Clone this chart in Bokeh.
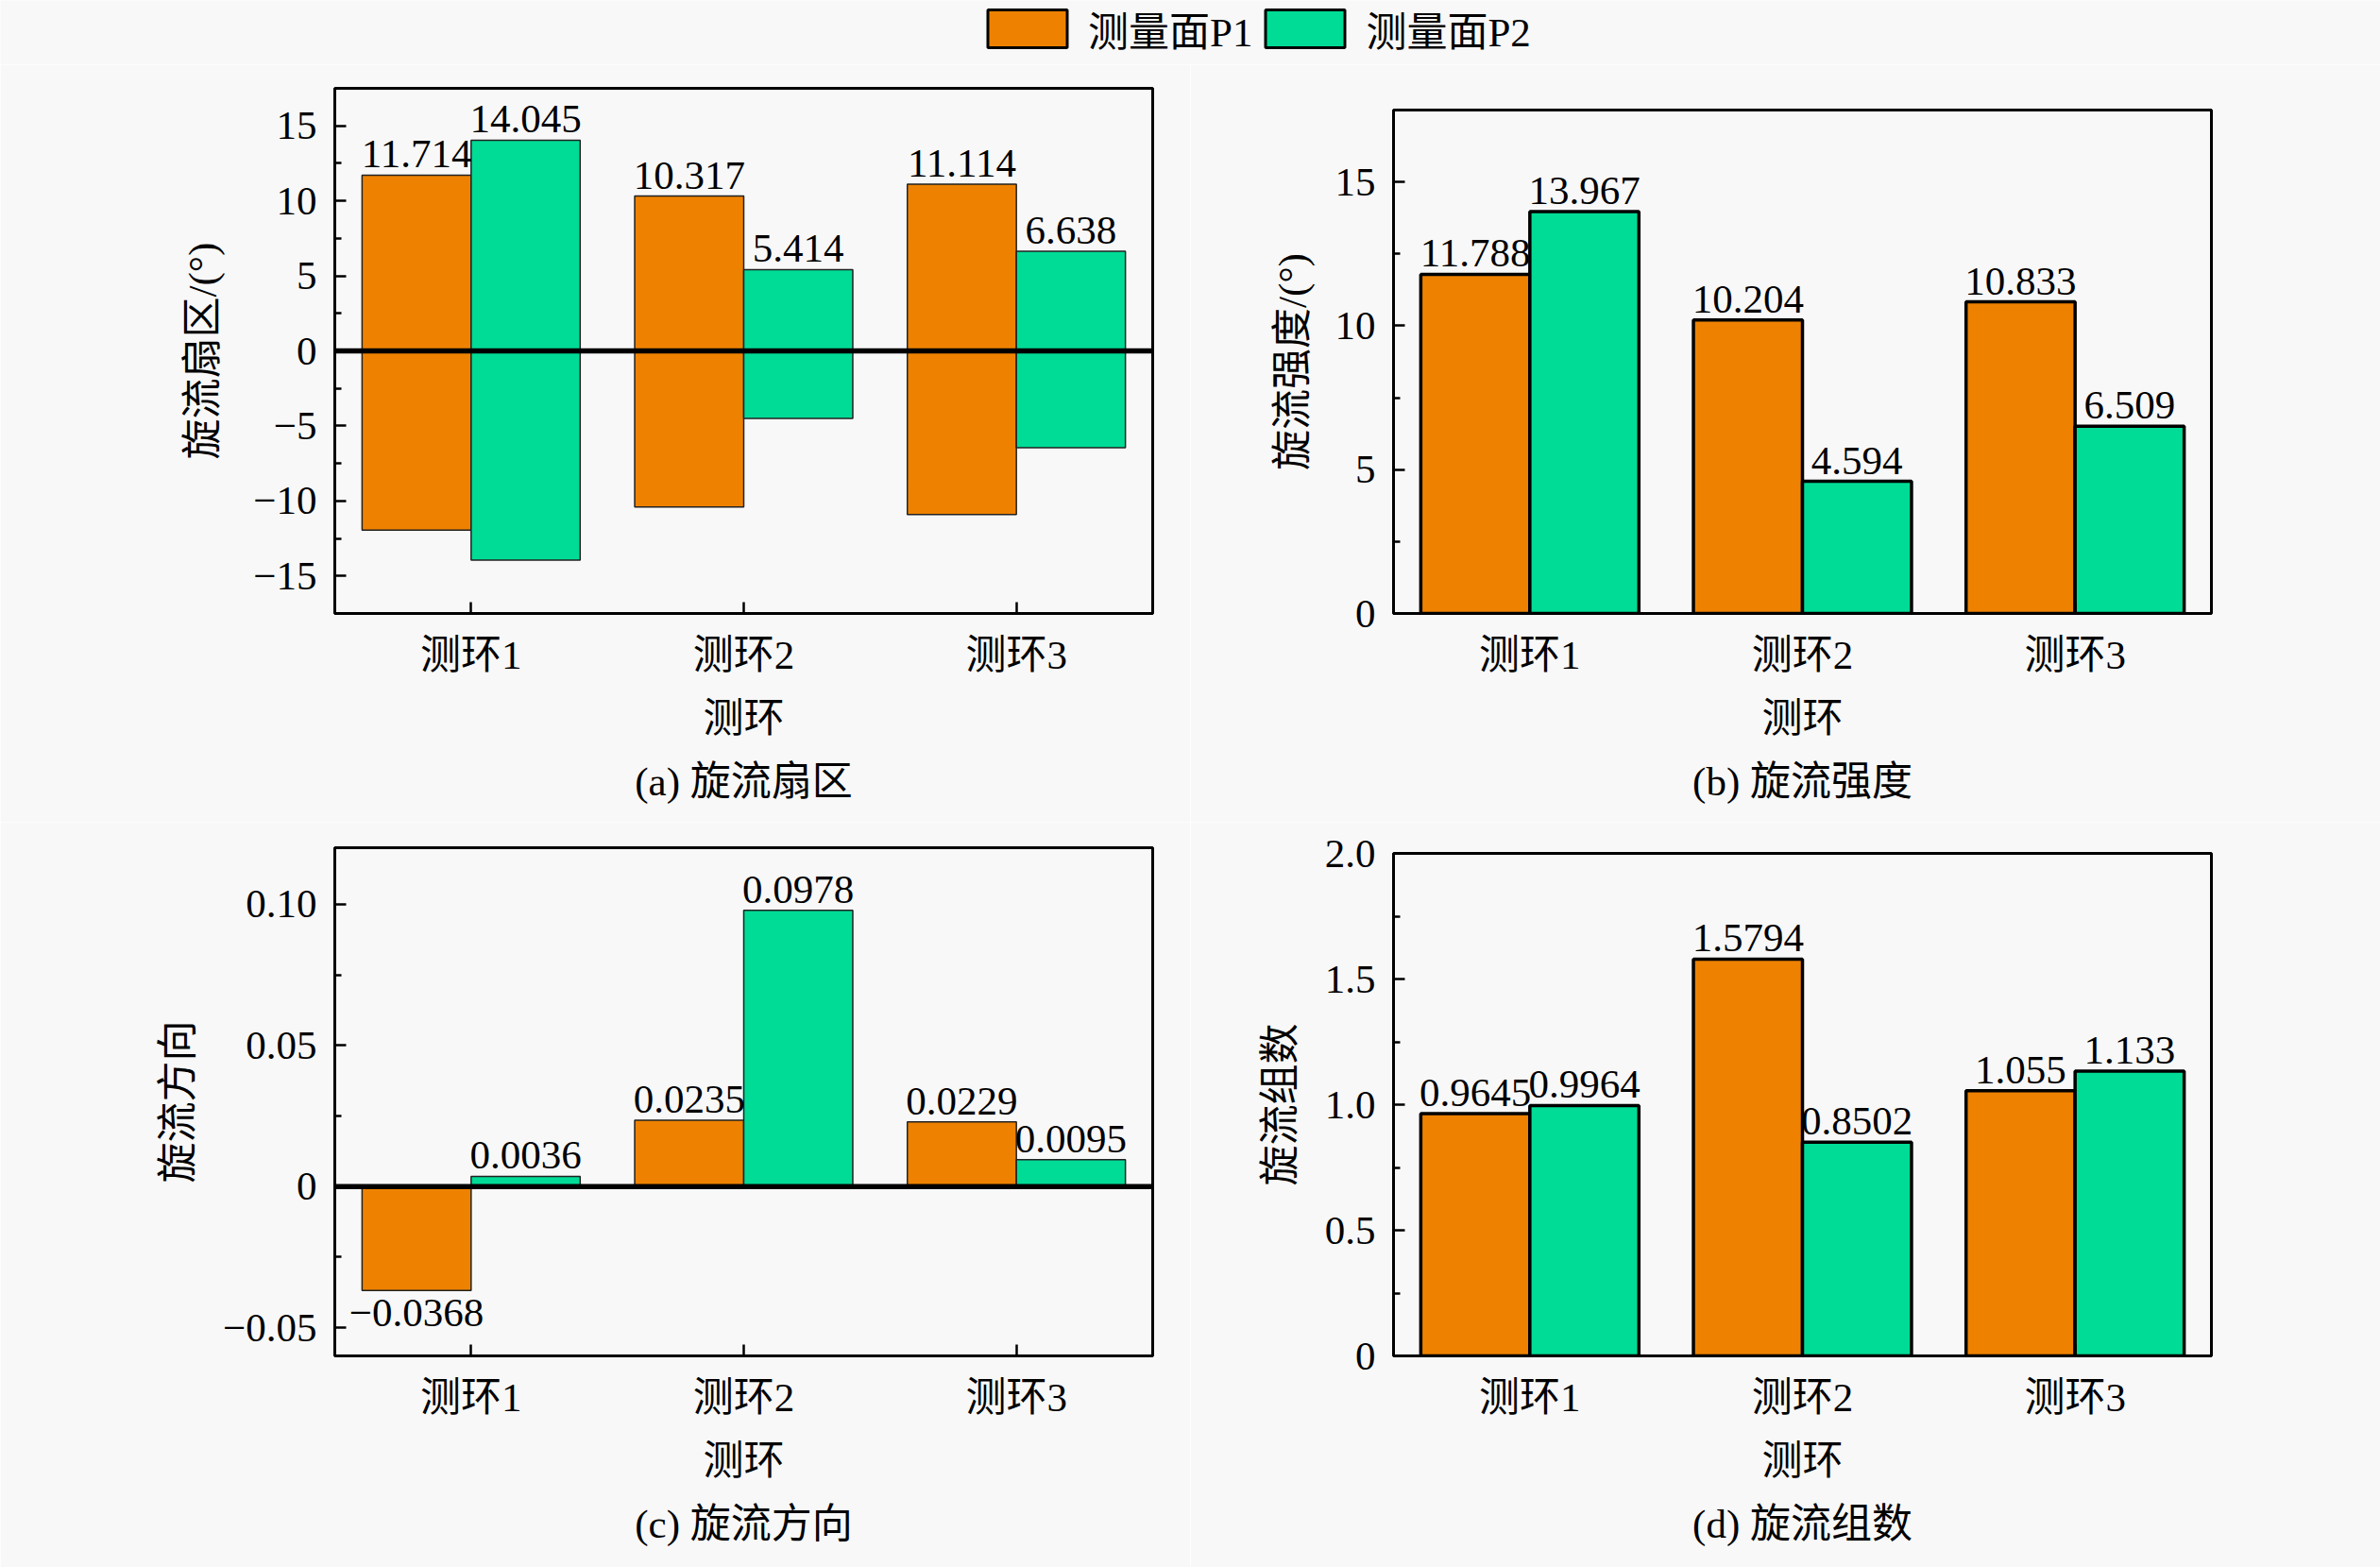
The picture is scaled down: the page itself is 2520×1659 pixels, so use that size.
from bokeh.plotting import figure
from bokeh.layouts import column, row
from bokeh.models import (ColumnDataSource, FactorRange, Range1d, FixedTicker, Span,
                          Title, Legend, LegendItem)
from bokeh.transform import dodge
from bokeh.core.properties import value
from bokeh.embed import file_html
from bokeh.resources import INLINE

# ---- data ----
rings = ["测环1", "测环2", "测环3"]
series_names = ["测量面P1", "测量面P2"]

sector_p1 = [11.714, 10.317, 11.114]
sector_p2 = [14.045, 5.414, 6.638]
sector_p1_low = [-11.95, -10.40, -10.90]
sector_p2_low = [-13.95, -4.50, -6.45]

intensity_p1 = [11.788, 10.204, 10.833]
intensity_p2 = [13.967, 4.594, 6.509]

direction_p1 = [-0.0368, 0.0235, 0.0229]
direction_p2 = [0.0036, 0.0978, 0.0095]

groups_p1 = [0.9645, 1.5794, 1.055]
groups_p2 = [0.9964, 0.8502, 1.133]

sector_ticks = [-15, -10, -5, 0, 5, 10, 15]
sector_tick_text = ["−15", "−10", "−5", "0", "5", "10", "15"]
intensity_ticks = [0, 5, 10, 15]
intensity_tick_text = ["0", "5", "10", "15"]
direction_ticks = [-0.05, 0, 0.05, 0.10]
direction_tick_text = ["−0.05", "0", "0.05", "0.10"]
groups_ticks = [0, 0.5, 1.0, 1.5, 2.0]
groups_tick_text = ["0", "0.5", "1.0", "1.5", "2.0"]

ORANGE = "#EE8200"
GREEN = "#00DC96"
BG = "#f8f8f8"
FONT = "Liberation Serif, Noto Sans CJK SC"
FS = "43px"


def fmt(v):
    return str(v).replace("-", "−")


def add_labels(p, vals, shift):
    """Value labels above positive bars, below negative ones."""
    for keep, baseline, off in ((lambda v: v >= 0, "bottom", -8), (lambda v: v < 0, "top", 10)):
        idx = [i for i, v in enumerate(vals) if keep(v)]
        if not idx:
            continue
        src = ColumnDataSource(dict(ring=[rings[i] for i in idx],
                                    y=[vals[i] for i in idx],
                                    text=[fmt(vals[i]) for i in idx]))
        p.text(x=dodge("ring", shift, range=p.x_range), y="y", text="text", source=src,
               text_align="center", text_baseline=baseline, y_offset=off, text_color="black",
               text_font=value(FONT), text_font_size=FS)


def make_panel(width, height, borders, y_range, ticks, tick_text, minors, ylabel, caption,
               p1, p2, low1=None, low2=None, bar_line=1.5, zero_line=False, label_standoff=16):
    left, right, top, bottom = borders
    p = figure(width=width, height=height, x_range=FactorRange(*rings, range_padding=0),
               y_range=Range1d(*y_range), toolbar_location=None, output_backend="svg",
               title=None, min_border_left=left, min_border_right=right,
               min_border_top=top, min_border_bottom=bottom, frame_align=False,
               background_fill_color=BG, border_fill_color=BG)
    p.grid.visible = False
    p.outline_line_color = "black"
    p.outline_line_width = 3

    src = ColumnDataSource(dict(ring=rings, p1=p1, p2=p2,
                                low1=low1 if low1 else [0] * len(rings),
                                low2=low2 if low2 else [0] * len(rings)))
    lc = "#222222" if bar_line < 2 else "black"
    p.vbar(x=dodge("ring", -0.2, range=p.x_range), top="p1", bottom="low1", width=0.4,
           source=src, fill_color=ORANGE, line_color=lc, line_width=bar_line)
    p.vbar(x=dodge("ring", 0.2, range=p.x_range), top="p2", bottom="low2", width=0.4,
           source=src, fill_color=GREEN, line_color=lc, line_width=bar_line)

    if zero_line:
        p.add_layout(Span(location=0, dimension="width", line_color="black", line_width=5.5))

    add_labels(p, p1, -0.2)
    add_labels(p, p2, 0.2)

    for ax in (p.xaxis[0], p.yaxis[0]):
        ax.axis_line_width = 3
        ax.major_tick_in = 12
        ax.major_tick_out = 0
        ax.major_tick_line_width = 2.5
        ax.minor_tick_in = 7
        ax.minor_tick_out = 0
        ax.minor_tick_line_width = 2.5
        ax.major_label_text_font = FONT
        ax.major_label_text_font_size = FS
        ax.major_label_text_color = "black"
        ax.axis_label_text_font = FONT
        ax.axis_label_text_font_size = FS
        ax.axis_label_text_font_style = "normal"
        ax.axis_label_text_color = "black"

    p.yaxis.ticker = FixedTicker(ticks=ticks, minor_ticks=minors)
    p.yaxis.major_label_overrides = dict(zip(ticks, tick_text))
    p.yaxis.major_label_standoff = 19
    p.yaxis.axis_label = ylabel
    p.yaxis.axis_label_standoff = label_standoff

    p.xaxis.axis_label = "测环"
    p.xaxis.major_label_standoff = 20
    p.xaxis.axis_label_standoff = 17

    p.add_layout(Title(text=caption, align="center", text_font=FONT, text_font_size=FS,
                       text_font_style="normal", text_color="black", standoff=30), "below")
    return p


pa = make_panel(1260, 802, (354, 40, 25, 221), (-17.5, 17.5), sector_ticks, sector_tick_text,
                [-12.5, -7.5, -2.5, 2.5, 7.5, 12.5], "旋流扇区/(°)", "(a) 旋流扇区",
                sector_p1, sector_p2, sector_p1_low, sector_p2_low, bar_line=1.5,
                zero_line=True, label_standoff=27)
pb = make_panel(1260, 802, (215, 179, 48, 221), (0, 17.5), intensity_ticks, intensity_tick_text,
                [2.5, 7.5, 12.5], "旋流强度/(°)", "(b) 旋流强度",
                intensity_p1, intensity_p2, bar_line=3.5, label_standoff=19)
pc = make_panel(1260, 789, (354, 40, 27, 224), (-0.06, 0.12), direction_ticks, direction_tick_text,
                [-0.025, 0.025, 0.075], "旋流方向", "(c) 旋流方向",
                direction_p1, direction_p2, bar_line=1.5, zero_line=True, label_standoff=21)
pd = make_panel(1260, 789, (215, 179, 33, 224), (0, 2.0), groups_ticks, groups_tick_text,
                [0.25, 0.75, 1.25, 1.75], "旋流组数", "(d) 旋流组数",
                groups_p1, groups_p2, bar_line=3.5, label_standoff=21)

# legend strip on top; its renderers carry the panel (b) data but stay hidden
lg = figure(width=2520, height=68, x_range=FactorRange(*rings), y_range=(0, 1),
            x_axis_location=None, y_axis_location=None, toolbar_location=None,
            output_backend="svg", title=None, min_border=0, frame_align=False,
            background_fill_color=BG, border_fill_color=BG)
lg.grid.visible = False
lg.outline_line_color = None
r1 = lg.vbar(x=rings, top=intensity_p1, width=0.4, fill_color=ORANGE, line_color="black",
             line_width=3, visible=False)
r2 = lg.vbar(x=rings, top=intensity_p2, width=0.4, fill_color=GREEN, line_color="black",
             line_width=3, visible=False)
legend = Legend(items=[LegendItem(label=series_names[0], renderers=[r1], index=0),
                       LegendItem(label=series_names[1], renderers=[r2], index=0)],
                orientation="horizontal", location=(1035, 7), glyph_width=105, glyph_height=50,
                label_standoff=12, spacing=3, padding=5, margin=0,
                border_line_color=None, background_fill_alpha=0,
                label_text_font=FONT, label_text_font_size=FS, label_text_color="black")
lg.add_layout(legend)

p = column(lg, row(pa, pb), row(pc, pd))

open("out.html", "w").write(file_html(p, INLINE))
